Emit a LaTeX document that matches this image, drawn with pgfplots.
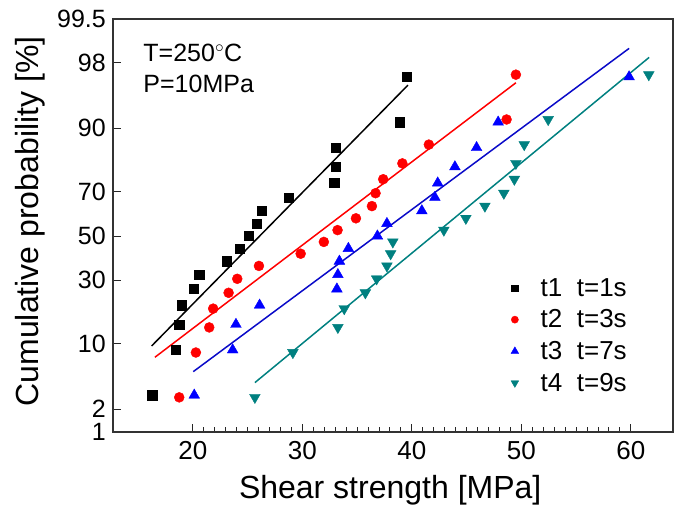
\documentclass[border=0pt]{standalone}
\usepackage{fontspec}
\setmainfont{Liberation Sans}
\usepackage{pgfplots}
\pgfplotsset{compat=1.18}
\definecolor{cteal}{RGB}{0,128,128}
\definecolor{cblue}{RGB}{0,0,255}
\definecolor{cblueline}{RGB}{10,10,200}
\definecolor{cred}{RGB}{255,0,0}
\begin{document}
\begin{tikzpicture}
\begin{axis}[
 at={(0pt,0pt)}, anchor=south west,
 scale only axis, width=560pt, height=413pt,
 xmin=12.7, xmax=63.85, ymin=-2.3263, ymax=2.5758,
 xtick={20,30,40,50,60}, minor x tick num=9,
 ytick={-2.3263,-2.0537,-1.2816,-0.5244,0,0.5244,1.2816,2.0537,2.5758},
 yticklabels={1,2,10,30,50,70,90,98,99.5},
 tick align=inside, tick pos=left,
 major tick length=8pt, minor tick length=5pt,
 tick style={black!85, line width=1pt},
 axis line style={black!80, line width=1.2pt},
 xticklabel style={font=\fontsize{26}{30}\selectfont, yshift=-6pt},
 yticklabel style={font=\fontsize{25}{28}\selectfont, xshift=-7pt, inner sep=0pt},
 /pgf/number format/assume math mode=true,
 xlabel={Shear strength [MPa]}, ylabel={Cumulative probability [\%]},
 label style={font=\fontsize{32}{36}\selectfont},
 xlabel style={at={(axis description cs:0.495,-0.14)}, anchor=center},
 ylabel style={at={(axis description cs:-0.148,0.51)}, anchor=center},
 legend style={at={(rel axis cs:0.705,0.382)}, anchor=north west, draw=none, fill=none,
   font=\fontsize{26}{30}\selectfont, row sep=8pt,
   /tikz/every odd column/.append style={column sep=20pt}},
 legend cell align=left,
 legend image post style={every mark/.append style={scale=0.72}},
]
\addplot[only marks, mark=square*, mark size=4.6pt, black] coordinates {
(16.28,-1.889) (18.42,-1.352) (18.75,-1.049) (18.99,-0.821) (20.09,-0.629)
(20.58,-0.458) (23.05,-0.299) (24.30,-0.148) (25.06,0) (25.83,0.148)
(26.29,0.299) (28.78,0.458) (32.90,0.629) (33.06,0.821) (33.06,1.049)
(38.87,1.352) (39.49,1.889)};
\addlegendentry{t1\ \ t=1s}
\addplot[only marks, mark=*, mark size=5pt, cred] coordinates {
(18.75,-1.915) (20.27,-1.383) (21.49,-1.085) (21.85,-0.862) (23.26,-0.674)
(24.05,-0.508) (26.03,-0.355) (29.84,-0.210) (31.96,-0.070) (33.21,0.070)
(34.89,0.210) (36.35,0.355) (36.68,0.508) (37.38,0.674) (39.13,0.862)
(41.55,1.085) (48.65,1.383) (49.50,1.915)};
\addlegendentry{t2\ \ t=3s}
\addplot[only marks, mark=triangle*, mark size=6.2pt, cblue] coordinates {
(20.12,-1.889) (23.63,-1.352) (23.93,-1.049) (26.09,-0.821) (33.15,-0.629)
(33.24,-0.458) (33.38,-0.299) (34.20,-0.148) (36.85,0) (37.72,0.148)
(40.91,0.299) (42.10,0.458) (42.36,0.629) (43.93,0.821) (45.91,1.049)
(47.88,1.352) (59.84,1.889)};
\addlegendentry{t3\ \ t=7s}
\addplot[only marks, mark=triangle*, mark size=6.2pt, mark options={rotate=180}, cteal] coordinates {
(25.66,-1.915) (29.13,-1.383) (33.24,-1.085) (33.82,-0.862) (35.75,-0.674)
(36.78,-0.508) (37.72,-0.355) (38.06,-0.210) (38.26,-0.070) (42.92,0.070)
(44.93,0.210) (46.67,0.355) (48.40,0.508) (49.36,0.674) (49.50,0.862)
(50.26,1.085) (52.45,1.383) (61.64,1.915)};
\addlegendentry{t4\ \ t=9s}
\addplot[black, line width=1.5pt, forget plot] coordinates {(16.23,-1.305) (39.64,1.791)};
\addplot[cred, line width=1.5pt, forget plot] coordinates {(16.53,-1.439) (49.5,1.819)};
\addplot[cblueline, line width=1.5pt, forget plot] coordinates {(20.03,-1.610) (59.84,2.227)};
\addplot[cteal, line width=1.5pt, forget plot] coordinates {(25.66,-1.740) (61.67,2.120)};
\node[anchor=base west, inner sep=0pt, font=\fontsize{25}{30}\selectfont] at (rel axis cs:0.054,0.896) {T=250$^{\circ}$C};
\node[anchor=base west, inner sep=0pt, font=\fontsize{25}{30}\selectfont] at (rel axis cs:0.054,0.823) {P=10MPa};
\end{axis}
\pgfresetboundingbox
\path (-113pt,-83pt) rectangle (572pt,432pt);
\end{tikzpicture}
\end{document}
